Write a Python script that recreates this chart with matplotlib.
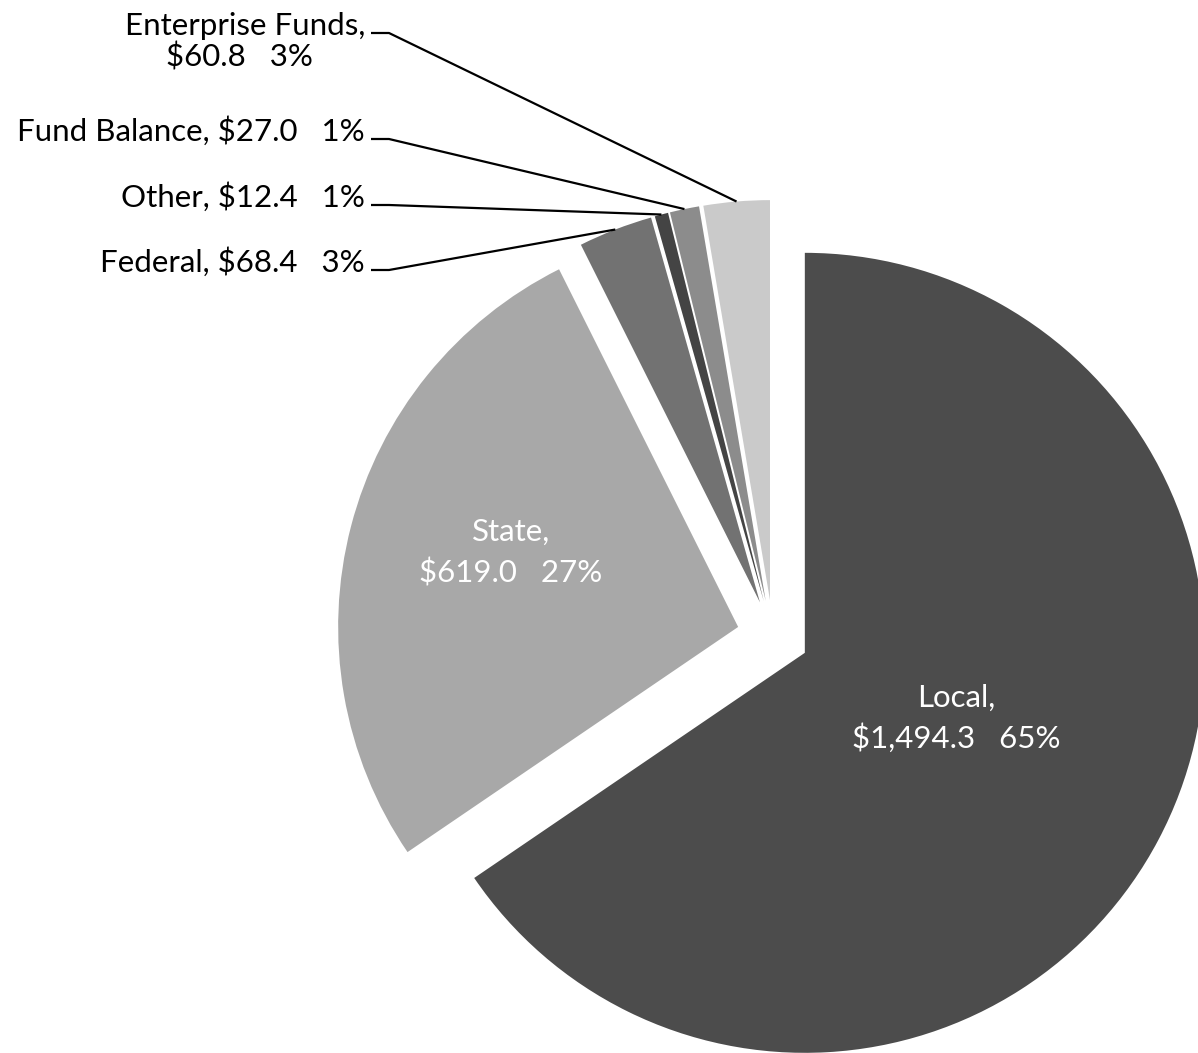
import numpy as np
import matplotlib
matplotlib.use("Agg")
import matplotlib.pyplot as plt

plt.rcParams["font.family"] = ["Lato", "DejaVu Sans"]

# ---------------------------------------------------------------------------
# Data (millions of dollars), clockwise from 12 o'clock
# ---------------------------------------------------------------------------
labels = ["Local", "State", "Federal", "Other", "Fund Balance", "Enterprise Funds"]
values = [1494.3, 619.0, 68.4, 12.4, 27.0, 60.8]
pcts = [65, 27, 3, 1, 1, 3]
colors = ["#4c4c4c", "#a8a8a8", "#727272", "#444444", "#8c8c8c", "#cacaca"]

W, H = 1198, 1053
R = 400
fig = plt.figure(figsize=(W / 100, H / 100), dpi=100)
ax = fig.add_axes([0, 0, 1, 1])

# explode is an absolute offset in data units here
wedges, _ = ax.pie(values, colors=colors, startangle=90, counterclock=False,
                   center=(773, 417), radius=R, explode=[36] * len(values),
                   wedgeprops=dict(linewidth=0), frame=True)
ax.set_xlim(0, W)
ax.set_ylim(0, H)
ax.set_aspect("equal")
ax.axis("off")

FS = 22.5


def line(x, y_img, s, **kw):
    # y given in image pixels (from top), baseline aligned
    ax.text(x, H - y_img, s, fontsize=FS, va="baseline", **kw)


# inside labels
line(511, 541, f"{labels[1]},", color="white", ha="center")
line(511, 582, f"${values[1]:,.1f}   {pcts[1]}%", color="white", ha="center")
line(956, 707, f"{labels[0]},", color="white", ha="center")
line(956, 748, f"${values[0]:,.1f}   {pcts[0]}%", color="white", ha="center")


def edge_point(w):
    mid = np.deg2rad((w.theta1 + w.theta2) / 2)
    cx, cy = w.center
    return cx + w.r * np.cos(mid), cy + w.r * np.sin(mid)


# outside labels with leader lines (leader y in image pixels)
leader_y = {2: 270, 3: 205, 4: 139, 5: 33}
for i, ly in leader_y.items():
    if i == 5:
        line(365, 35, f"{labels[i]},", ha="right")
        line(239, 67, f"${values[i]:.1f}   {pcts[i]}%", ha="center")
    else:
        line(365, ly + 2, f"{labels[i]}, ${values[i]:.1f}   {pcts[i]}%", ha="right")
    ex, ey = edge_point(wedges[i])
    ax.plot([371, 389, ex], [H - ly, H - ly, ey], color="black", lw=1.6,
            solid_capstyle="butt")

fig.savefig("out.png", dpi=100, facecolor="white")
